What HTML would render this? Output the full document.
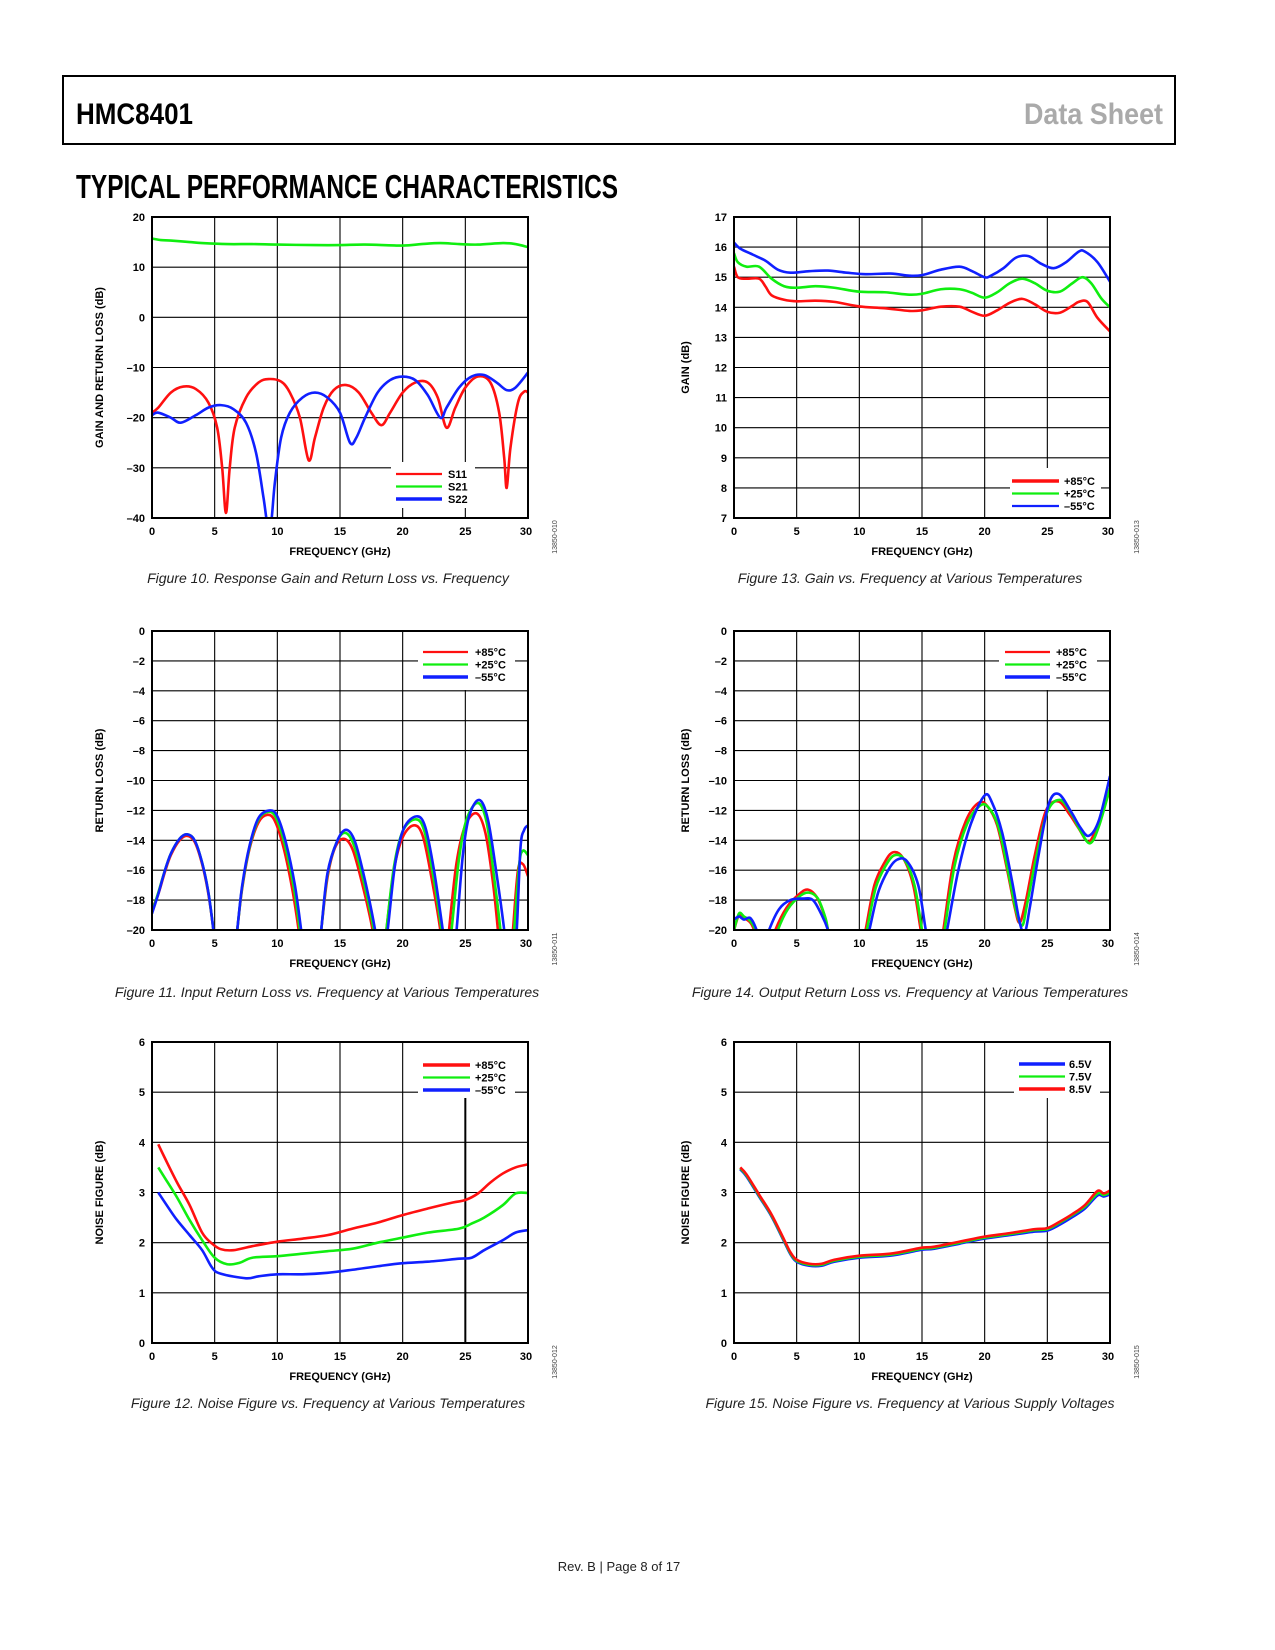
<!DOCTYPE html>
<html><head><meta charset="utf-8"><style>
html,body{margin:0;padding:0;background:#fff}
svg{display:block}
text{font-family:"Liberation Sans",Arial,sans-serif}
.tk{font-size:11px;font-weight:bold;fill:#000}
.ax{font-size:11px;font-weight:bold;fill:#000}
.cap{font-size:14px;font-style:italic;fill:#222}
.lg{font-size:11px;font-weight:bold;fill:#000}
.fid{font-size:7px;fill:#444}
</style></head><body>
<svg id="page" width="1275" height="1650" viewBox="0 0 1275 1650" xmlns="http://www.w3.org/2000/svg">
<rect x="63" y="76" width="1112" height="68" fill="none" stroke="#000" stroke-width="2"/>
<text x="76" y="124" font-size="30" font-weight="bold" textLength="117" lengthAdjust="spacingAndGlyphs">HMC8401</text>
<text x="1024" y="124" font-size="30" font-weight="bold" fill="#aaa" textLength="139" lengthAdjust="spacingAndGlyphs">Data Sheet</text>
<text x="76" y="198" font-size="33" font-weight="bold" textLength="542" lengthAdjust="spacingAndGlyphs">TYPICAL PERFORMANCE CHARACTERISTICS</text>
<text x="619" y="1571" font-size="13" text-anchor="middle" fill="#222">Rev. B | Page 8 of 17</text>
</svg>
<script>
// ---- Figure 10 ----
const f10_s21_x=[0,0.7,1.5,3,4,6,8,10,13,15,17,20,21.5,23,24.5,26,28,29,30];
const f10_s21_y=[15.7,15.4,15.3,15.0,14.8,14.6,14.6,14.5,14.4,14.4,14.5,14.3,14.6,14.8,14.6,14.5,14.8,14.6,14.0];
const f10_s11_x=[0,0.5,1.5,2.5,3.5,4.5,5.2,5.6,5.9,6.2,6.6,7.5,8.5,9.3,10.3,11,11.8,12.5,13,13.7,14.5,15.5,16.5,17.5,18.3,19,20,21,22,22.8,23.5,24.2,25,26,27,27.7,28.1,28.3,28.6,29.2,29.7,30];
const f10_s11_y=[-19,-18,-15,-13.8,-14.3,-17,-22,-30,-39,-30,-22,-16,-13,-12.3,-12.8,-15,-20,-28.5,-24,-18,-14.5,-13.5,-15,-19,-21.5,-19,-15,-13,-13,-16,-22,-18,-14,-11.8,-13,-19,-28,-34,-26,-17,-14.8,-15];
const f10_s22_x=[0,0.5,1.5,2.3,3.5,4.5,5.5,6.5,7.5,8.3,8.9,9.2,9.5,9.8,10.3,11,12,13,14,15,15.8,16.3,17,18,19,20,21,22,23,23.5,24.5,25.5,26.5,27.5,28.3,29,30];
const f10_s22_y=[-19.5,-19,-20,-21,-19.5,-18,-17.5,-18.3,-21,-27,-36,-41,-41,-33,-24,-19,-16,-15,-16,-19,-25,-24,-20,-15,-12.5,-11.8,-12.5,-15.5,-20,-18,-14,-11.8,-11.5,-13,-14.5,-14,-11];
const f10_yticks=[20,10,0,-10,-20,-30,-40];
const f10_legend=["S11","S21","S22"];
// ---- Figure 13 ----
const f13_red_x=[0,0.3,1,2,2.5,3,4,5,6.5,8,10,12,14,15,16.5,18,19,20,21,22,23,24,25,26,27,27.5,28.2,29,30];
const f13_red_y=[15.35,15.0,14.95,14.95,14.7,14.4,14.25,14.2,14.22,14.18,14.03,13.97,13.88,13.9,14.02,14.02,13.85,13.72,13.9,14.15,14.28,14.1,13.85,13.82,14.05,14.18,14.18,13.65,13.2];
const f13_grn_x=[0,0.3,1,2,3,4,5,6.5,8,10,12,14,15,16.5,18,19,20,21,22,23,24,25,26,27,27.8,28.5,29.3,30];
const f13_grn_y=[15.8,15.5,15.35,15.35,14.95,14.7,14.65,14.7,14.65,14.52,14.5,14.42,14.45,14.6,14.6,14.48,14.32,14.5,14.8,14.95,14.8,14.55,14.52,14.8,15.0,14.8,14.3,14.0];
const f13_blu_x=[0,0.5,1.5,2.5,3.5,4.5,6,7.5,9,10.5,12.5,14,15,16.5,18,19,20,20.5,21.5,22.5,23.5,24.5,25.5,26.5,27.5,28,29,30];
const f13_blu_y=[16.15,15.95,15.75,15.55,15.25,15.15,15.2,15.22,15.15,15.1,15.12,15.05,15.07,15.25,15.35,15.2,15.0,15.05,15.3,15.65,15.7,15.45,15.3,15.5,15.85,15.85,15.5,14.85];
const f13_yticks=[17,16,15,14,13,12,11,10,9,8,7];
const temp_legend=["+85\u00B0C","+25\u00B0C","\u201355\u00B0C"];
// ---- Figure 11 ----
const f11_red_x=[0,0.5,1,1.5,2.2,2.8,3.4,4,4.5,4.9,5.3,6.4,6.8,7.2,7.8,8.5,9.2,9.8,10.5,11.2,11.7,12,13.2,13.5,14,14.6,15.3,16,16.8,17.6,17.9,18.4,18.7,19.3,20,20.9,21.6,22.3,23,23.2,23.5,23.7,24.3,25,25.9,26.6,27.2,27.6,27.8,28.6,28.8,29.2,29.6,30];
const f11_red_y=[-18.6,-17.6,-16.2,-15,-14,-13.7,-14.1,-15.6,-17.6,-20,-23,-23,-20,-17.2,-14.5,-12.8,-12.3,-12.7,-14.5,-17.3,-20,-22,-22,-20,-16.5,-14.5,-13.9,-14.6,-17,-20,-22,-22,-20,-16,-13.8,-13.0,-13.7,-16.5,-20,-22,-22,-20,-15.5,-13,-12.2,-13.5,-16.8,-20,-22,-22,-20,-16,-15.6,-16.4];
const f11_grn_x=[0,0.5,1,1.5,2.2,2.8,3.4,4,4.5,4.9,5.3,6.4,6.8,7.2,7.8,8.5,9.3,9.9,10.6,11.3,11.8,12.1,13.2,13.5,14,14.7,15.4,16.1,16.9,17.7,18,18.4,18.7,19.3,20,21,21.7,22.4,23.1,23.3,23.6,23.9,24.5,25.1,26,26.7,27.3,27.8,28,28.7,28.9,29.3,29.6,30];
const f11_grn_y=[-18.8,-17.5,-16.1,-14.9,-13.9,-13.6,-14,-15.5,-17.5,-20,-23,-23,-20,-17.1,-14.4,-12.6,-12.1,-12.5,-14.3,-17.1,-20,-22,-22,-20,-16.3,-14.2,-13.5,-14.3,-16.8,-20,-22,-22,-20,-15.8,-13.4,-12.6,-13.3,-16.2,-20,-22,-22,-20,-15.2,-12.6,-11.5,-12.8,-16.5,-20,-22,-22,-20,-15.6,-14.7,-15];
const f11_blu_x=[0,0.5,1,1.5,2.2,2.8,3.4,4,4.5,4.9,5.3,6.4,6.8,7.2,7.8,8.5,9.4,10,10.7,11.4,11.9,12.2,13.2,13.5,14,14.8,15.5,16.2,17,17.8,18.1,18.4,18.8,19.4,20.1,21.1,21.8,22.5,23.2,23.5,24,24.3,24.8,25.3,26.1,26.8,27.5,28.1,28.3,28.8,29.1,29.4,29.7,30];
const f11_blu_y=[-18.9,-17.6,-16.1,-14.9,-13.9,-13.6,-14,-15.5,-17.5,-20,-23,-23,-20,-17,-14.3,-12.5,-12.0,-12.4,-14.2,-17,-20,-22,-22,-20,-16.2,-14,-13.3,-14.1,-16.7,-20,-22,-22,-20,-15.6,-13.2,-12.4,-13.1,-16,-20,-22,-22,-20,-15,-12.4,-11.3,-12.6,-16.3,-20,-22,-22,-20,-14.5,-13.3,-13];
const rl_yticks=[0,-2,-4,-6,-8,-10,-12,-14,-16,-18,-20];
// ---- Figure 14 ----
const f14_red_x=[0,0.4,0.8,1.3,1.6,1.9,3.0,3.3,4.2,5.2,5.9,6.6,7.2,7.5,7.8,10.2,10.5,11.2,12.0,12.7,13.5,14.3,14.9,15.2,16.4,16.7,17.5,18.5,19.5,20.2,21,21.8,22.4,22.8,23.3,24,24.9,25.9,26.8,27.5,28.3,29,30];
const f14_red_y=[-20,-19.0,-19.2,-19.5,-20,-21,-21,-20,-18.5,-17.6,-17.3,-17.8,-19,-20,-21,-21,-20,-17,-15.5,-14.8,-15.2,-17,-20,-21,-21,-20,-15.5,-12.7,-11.5,-11.7,-13,-16,-18.5,-19.5,-18,-15,-12,-11.4,-12.3,-13.2,-14.1,-13,-10.6];
const f14_grn_x=[0,0.4,0.8,1.3,1.7,2.0,3.2,3.5,4.3,5.3,6.0,6.7,7.3,7.5,7.8,10.3,10.6,11.3,12.1,12.8,13.6,14.4,15.0,15.3,16.5,16.8,17.6,18.6,19.6,20.3,21.1,21.9,22.5,23.0,23.4,24.1,25.0,26.0,26.9,27.6,28.4,29.1,30];
const f14_grn_y=[-20,-18.9,-19.1,-19.4,-20,-21,-21,-20,-18.6,-17.7,-17.5,-17.9,-19.2,-20,-21,-21,-20,-17.2,-15.7,-15.0,-15.3,-17,-20,-21,-21,-20,-15.7,-12.9,-11.7,-11.8,-13.1,-16.2,-18.7,-19.7,-18.2,-15.2,-12.1,-11.3,-12.2,-13.3,-14.2,-13.1,-10.5];
const f14_blu_x=[0,0.4,0.8,1.3,1.8,2.1,2.5,2.8,3.6,4.5,5.5,6.3,7.0,7.5,7.8,10.5,10.8,11.5,12.3,13.0,13.8,14.7,15.3,15.6,16.7,17.0,17.9,18.9,20.0,20.6,21.4,22.2,22.8,23.2,23.6,24.3,25.1,25.9,26.9,27.6,28.3,29.1,30];
const f14_blu_y=[-19.3,-19.1,-19.3,-19.2,-20,-21,-21,-20,-18.6,-18.0,-17.9,-18.0,-19,-20,-21,-21,-20,-17.5,-16.0,-15.3,-15.4,-17,-20,-21,-21,-20,-16,-12.9,-11.0,-11.5,-13.5,-16.8,-19.5,-20.2,-18.5,-15,-11.6,-10.9,-12.1,-13.1,-13.7,-12.7,-9.7];
// ---- Figure 12 ----
const f12_red_x=[0.5,1,2,3,4,4.8,5.5,6.5,8,10,12,14,16,18,20,22,24,25,26,27,28,29,30];
const f12_red_y=[3.96,3.7,3.2,2.75,2.2,1.98,1.87,1.85,1.93,2.02,2.08,2.15,2.28,2.4,2.55,2.68,2.8,2.85,2.98,3.2,3.38,3.5,3.56];
const f12_grn_x=[0.5,1,2,3,4,5,6,7,8,10,12,14,16,18,20,22,24.5,25.5,26.5,28,29,30];
const f12_grn_y=[3.5,3.3,2.9,2.45,2.05,1.7,1.57,1.6,1.7,1.73,1.78,1.83,1.88,2.0,2.1,2.2,2.28,2.38,2.5,2.75,2.98,2.99];
const f12_blu_x=[0.5,1.3,2,3,4,4.8,5.5,7.5,8.5,10,12,14,16,18,20,22,24.5,25.5,26.5,28,29,30];
const f12_blu_y=[3.0,2.7,2.45,2.15,1.85,1.5,1.38,1.29,1.33,1.37,1.37,1.4,1.46,1.53,1.59,1.62,1.68,1.7,1.85,2.05,2.2,2.25];
const nf_yticks=[6,5,4,3,2,1,0];
// ---- Figure 15 ----
const f15_x=[0.5,1,2,3,4,4.5,5,6,7,8,10,12,13,14,15,16,18,20,22,24,25,26,27,28,29,29.5,30];
const f15_v85=[3.5,3.36,2.96,2.56,2.06,1.81,1.66,1.58,1.58,1.66,1.74,1.77,1.80,1.85,1.9,1.92,2.02,2.12,2.19,2.27,2.29,2.42,2.57,2.75,3.03,2.98,3.04];
const f15_v75=[3.48,3.34,2.94,2.54,2.04,1.79,1.64,1.56,1.56,1.64,1.72,1.75,1.78,1.83,1.88,1.9,2.0,2.1,2.17,2.25,2.27,2.4,2.55,2.72,2.98,2.95,3.0];
const f15_v65=[3.46,3.32,2.92,2.52,2.02,1.77,1.62,1.54,1.54,1.62,1.7,1.73,1.76,1.81,1.86,1.88,1.98,2.08,2.15,2.22,2.24,2.36,2.51,2.68,2.94,2.92,2.96];
const v_legend=["6.5V","7.5V","8.5V"];
const xticks=[0,5,10,15,20,25,30];

const NS="http://www.w3.org/2000/svg";
const page=document.getElementById('page');
function mk(tag,attrs,parent){const e=document.createElementNS(NS,tag);for(const k in attrs)e.setAttribute(k,attrs[k]);(parent||page).appendChild(e);return e;}
function pathFrom(xs,ys,sx,sy){
  const p=xs.map((x,i)=>[sx(x),sy(ys[i])]);
  let d='M'+p[0][0].toFixed(2)+','+p[0][1].toFixed(2);
  for(let i=0;i<p.length-1;i++){
    const p0=p[Math.max(0,i-1)],p1=p[i],p2=p[i+1],p3=p[Math.min(p.length-1,i+2)];
    const c1x=p1[0]+(p2[0]-p0[0])/6,c1y=p1[1]+(p2[1]-p0[1])/6;
    const c2x=p2[0]-(p3[0]-p1[0])/6,c2y=p2[1]-(p3[1]-p1[1])/6;
    d+=' C'+c1x.toFixed(2)+','+c1y.toFixed(2)+' '+c2x.toFixed(2)+','+c2y.toFixed(2)+' '+p2[0].toFixed(2)+','+p2[1].toFixed(2);
  }
  return d;
}
let clipN=0;
function chart(o){
  const g=mk('g',{});
  
  
  const L=o.L,R=o.R,T=o.T,B=o.B;
  const ymax=o.yticks[0],ymin=o.yticks[o.yticks.length-1];
  const sx=v=>L+(v-0)/(30-0)*(R-L);
  const sy=v=>T+(ymax-v)/(ymax-ymin)*(B-T);
  // grid
  o.yticks.forEach(v=>{
    const ln=mk('line',{x1:L,x2:R,y1:sy(v),y2:sy(v),stroke:'#000','stroke-width':1.1},g);
    
    
    const t=mk('text',{x:L-7,y:sy(v)+4,'text-anchor':'end',class:'tk'},g);
    t.textContent=String(v).replace('-','\u2013');
    
    
  });
  xticks.forEach(v=>{
    const thick=(o.thick25&&v===25);
    const ln=mk('line',{x1:sx(v),x2:sx(v),y1:T,y2:B,stroke:'#000','stroke-width':thick?2:1.1},g);
    
    
    const t=mk('text',{x:sx(v)+(v===30?-2:0),y:B+17,'text-anchor':'middle',class:'tk'},g);
    t.textContent=v;
    
    
  });
  // legend background
  const lb=mk('rect',{x:o.lg.x0,y:o.lg.y0,width:o.lg.x1-o.lg.x0,height:o.lg.y1-o.lg.y0,fill:'#fff'},g);
  
  
  // series
  const cid='clip'+(clipN++);
  const cp=mk('clipPath',{id:cid},g);mk('rect',{x:L,y:T,width:R-L,height:B-T},cp);
  o.series.forEach(s=>{
    const p=mk('path',{d:pathFrom(s.x,s.y,sx,sy),fill:'none',stroke:s.c,'stroke-width':2.6,'stroke-linejoin':'round','clip-path':'url(#'+cid+')'},g);
    
    
  });
  // frame
  const fr=mk('rect',{x:L,y:T,width:R-L,height:B-T,fill:'none',stroke:'#000','stroke-width':2},g);
  
  
  // legend entries
  o.lg.items.forEach((it,i)=>{
    const y=o.lg.ly+i*12.5;
    const l=mk('line',{x1:o.lg.lx0,x2:o.lg.lx1,y1:y,y2:y,stroke:it.c,'stroke-width':it.w||2.5},g);
    
    
    const t=mk('text',{x:o.lg.tx,y:y+4,class:'lg'},g);
    t.textContent=it.t;
    
    
  });
  // titles
  const xt=mk('text',{x:(L+R)/2,y:B+37,'text-anchor':'middle',class:'ax'},g);
  xt.textContent='FREQUENCY (GHz)';
  
  
  const yx=o.ytx, yy=(T+B)/2;
  const yt=mk('text',{x:yx,y:yy,'text-anchor':'middle',class:'ax',transform:'rotate(-90 '+yx+' '+yy+')'},g);
  yt.textContent=o.ytitle;
  
  
  const fx=R+29, fy=B+19;
  const fi=mk('text',{x:fx,y:fy,'text-anchor':'middle',class:'fid',transform:'rotate(-90 '+fx+' '+fy+')'},g);
  fi.textContent=o.fid;
  
  
  const cap=mk('text',{x:o.capx,y:o.capy,'text-anchor':'middle',class:'cap'},g);
  cap.textContent=o.cap;
  
  
}
const RED='#ff1010',GRN='#10ee10',BLU='#1020ff';
const LX=[152,528],RX=[734,1110];
chart({name:'figure-10-chart',L:LX[0],R:LX[1],T:217,B:518,yticks:f10_yticks,ytx:103,ytitle:'GAIN AND RETURN LOSS (dB)',fid:'13850-010',cap:'Figure 10. Response Gain and Return Loss vs. Frequency',capx:328,capy:583,
 series:[{x:f10_s21_x,y:f10_s21_y,c:GRN,n:'s21-line'},{x:f10_s11_x,y:f10_s11_y,c:RED,n:'s11-line'},{x:f10_s22_x,y:f10_s22_y,c:BLU,n:'s22-line'}],
 lg:{x0:391,x1:475,y0:462,y1:508,lx0:396,lx1:442,tx:448,ly:474,items:[{c:RED,t:f10_legend[0],w:2.2},{c:GRN,t:f10_legend[1],w:2.2},{c:BLU,t:f10_legend[2],w:3.5}]}});
chart({name:'figure-13-chart',L:RX[0],R:RX[1],T:217,B:518,yticks:f13_yticks,ytx:689,ytitle:'GAIN (dB)',fid:'13850-013',cap:'Figure 13. Gain vs. Frequency at Various Temperatures',capx:910,capy:583,
 series:[{x:f13_grn_x,y:f13_grn_y,c:GRN,n:'plus25c-line'},{x:f13_red_x,y:f13_red_y,c:RED,n:'plus85c-line'},{x:f13_blu_x,y:f13_blu_y,c:BLU,n:'minus55c-line'}],
 lg:{x0:1010,x1:1101,y0:468,y1:518,lx0:1012,lx1:1059,tx:1064,ly:481,items:[{c:RED,t:temp_legend[0],w:3.5},{c:GRN,t:temp_legend[1],w:2.2},{c:BLU,t:temp_legend[2],w:2.2}]}});
chart({name:'figure-11-chart',L:LX[0],R:LX[1],T:631,B:930,yticks:rl_yticks,ytx:103,ytitle:'RETURN LOSS (dB)',fid:'13850-011',cap:'Figure 11. Input Return Loss vs. Frequency at Various Temperatures',capx:327,capy:997,
 series:[{x:f11_red_x,y:f11_red_y,c:RED,n:'plus85c-line'},{x:f11_grn_x,y:f11_grn_y,c:GRN,n:'plus25c-line'},{x:f11_blu_x,y:f11_blu_y,c:BLU,n:'minus55c-line'}],
 lg:{x0:418,x1:515,y0:632,y1:690,lx0:423,lx1:468,tx:475,ly:652,items:[{c:RED,t:temp_legend[0],w:2.2},{c:GRN,t:temp_legend[1],w:2.2},{c:BLU,t:temp_legend[2],w:3.5}]}});
chart({name:'figure-14-chart',L:RX[0],R:RX[1],T:631,B:930,yticks:rl_yticks,ytx:689,ytitle:'RETURN LOSS (dB)',fid:'13850-014',cap:'Figure 14. Output Return Loss vs. Frequency at Various Temperatures',capx:910,capy:997,
 series:[{x:f14_red_x,y:f14_red_y,c:RED,n:'plus85c-line'},{x:f14_grn_x,y:f14_grn_y,c:GRN,n:'plus25c-line'},{x:f14_blu_x,y:f14_blu_y,c:BLU,n:'minus55c-line'}],
 lg:{x0:999,x1:1097,y0:632,y1:690,lx0:1005,lx1:1050,tx:1056,ly:652,items:[{c:RED,t:temp_legend[0],w:2.2},{c:GRN,t:temp_legend[1],w:2.2},{c:BLU,t:temp_legend[2],w:3.5}]}});
chart({name:'figure-12-chart',L:LX[0],R:LX[1],T:1042,B:1343,yticks:nf_yticks,ytx:103,ytitle:'NOISE FIGURE (dB)',fid:'13850-012',cap:'Figure 12. Noise Figure vs. Frequency at Various Temperatures',capx:328,capy:1408,thick25:true,
 series:[{x:f12_red_x,y:f12_red_y,c:RED,n:'plus85c-line'},{x:f12_grn_x,y:f12_grn_y,c:GRN,n:'plus25c-line'},{x:f12_blu_x,y:f12_blu_y,c:BLU,n:'minus55c-line'}],
 lg:{x0:418,x1:515,y0:1043,y1:1098,lx0:423,lx1:470,tx:475,ly:1065,items:[{c:RED,t:temp_legend[0],w:3.5},{c:GRN,t:temp_legend[1],w:2.2},{c:BLU,t:temp_legend[2],w:3.5}]}});
chart({name:'figure-15-chart',L:RX[0],R:RX[1],T:1042,B:1343,yticks:nf_yticks,ytx:689,ytitle:'NOISE FIGURE (dB)',fid:'13850-015',cap:'Figure 15. Noise Figure vs. Frequency at Various Supply Voltages',capx:910,capy:1408,
 series:[{x:f15_x,y:f15_v65,c:BLU,n:'6v5-line'},{x:f15_x,y:f15_v75,c:GRN,n:'7v5-line'},{x:f15_x,y:f15_v85,c:RED,n:'8v5-line'}],
 lg:{x0:1014,x1:1100,y0:1043,y1:1098,lx0:1019,lx1:1065,tx:1069,ly:1064,items:[{c:BLU,t:v_legend[0],w:3.5},{c:GRN,t:v_legend[1],w:2.2},{c:RED,t:v_legend[2],w:3.5}]}});
</script>
</body></html>
